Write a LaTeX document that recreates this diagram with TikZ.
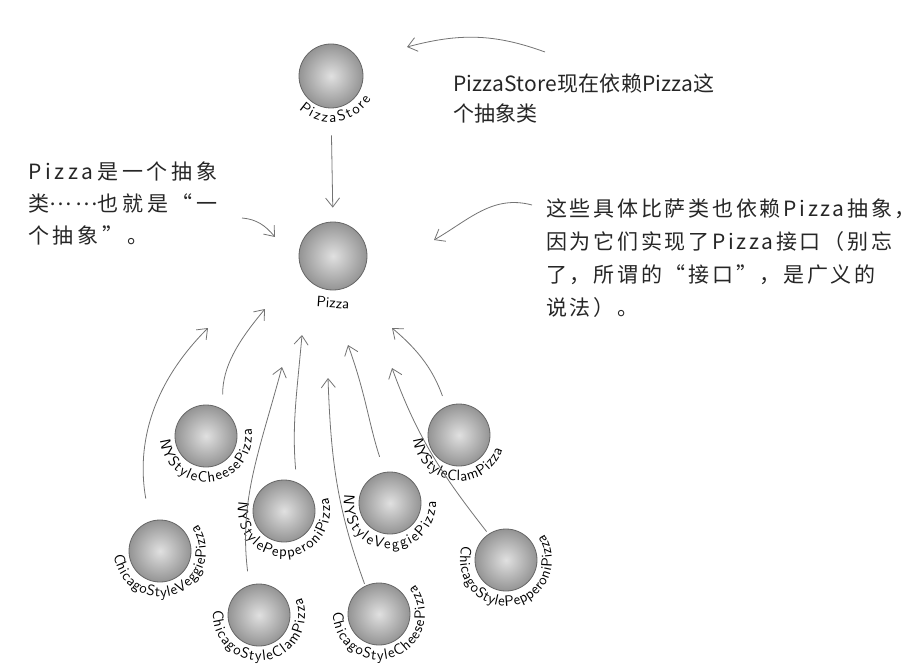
\documentclass[tikz,border=0pt]{standalone}
\usepackage{fontspec}
\newfontfamily\cjk{Noto Sans CJK SC}
\usetikzlibrary{arrows.meta,decorations.text}
\newcommand{\ballname}[4]{%
  \path[decorate,decoration={text along path,
      text={|\sffamily\fontsize{15}{15}\selectfont|#4},text align={fit to path}}]
    ([shift={(#2:46pt)}]#1.center) arc[start angle=#2,end angle=#3,radius=46pt];}

\begin{document}
\begin{tikzpicture}[x=1pt,y=1pt]
  \tikzset{
    ball/.style={circle,inner sep=0pt,minimum size=62pt,draw=black!60,line width=0.8pt,
      inner color=black!12,outer color=black!42},
    note/.style={anchor=north west,inner sep=0pt,align=left,text=black!85},
    arr/.style={draw=black!55,line width=0.8pt,-{Straight Barb[length=9pt,width=14pt]}},
  }
  \useasboundingbox (0,0) rectangle (923,-671);
  \node[ball,minimum size=64pt] (store) at (331,-76) {};
  \node[ball,minimum size=68pt] (pizza) at (333,-256) {};
  \node[ball] (nycheese)    at (206,-436) {};
  \node[ball] (nypepperoni) at (284,-511) {};
  \node[ball] (nyveggie)    at (390,-503) {};
  \node[ball] (nyclam)      at (459,-435) {};
  \node[ball] (chveggie)    at (160,-551) {};
  \node[ball] (chclam)      at (259,-615) {};
  \node[ball] (chcheese)    at (379,-614) {};
  \node[ball] (chpepperoni) at (506,-560) {};
  \node[font=\sffamily\fontsize{15}{15}\selectfont,rotate=-4] (pizzaname) at (333,-303) {Pizza};
  \ballname{store}{226}{330}{PizzaStore}
  \ballname{nycheese}{185}{369}{NYStyleCheesePizza}
  \ballname{nypepperoni}{168}{377}{NYStylePepperoniPizza}
  \ballname{nyveggie}{170}{362}{NYStyleVeggiePizza}
  \ballname{nyclam}{186}{341}{NYStyleClamPizza}
  \ballname{chveggie}{185}{395}{ChicagoStyleVeggiePizza}
  \ballname{chclam}{174}{382}{ChicagoStyleClamPizza}
  \ballname{chcheese}{178}{399}{ChicagoStyleCheesePizza}
  \ballname{chpepperoni}{162}{394}{ChicagoStylePepperoniPizza}

  \node[note,font=\cjk\fontsize{21}{30}\selectfont\addfontfeature{LetterSpace=1}]
    (storenote) at (453,-74) {PizzaStore现在依赖Pizza这\\个抽象类};
  \node[note,font=\cjk\fontsize{21}{32}\selectfont\addfontfeature{LetterSpace=18}]
    (abstractnote) at (28,-162) {Pizza是一个抽象\\类\raisebox{6pt}{……}也就是“一\\个抽象”。};
  \node[note,font=\cjk\fontsize{21}{33}\selectfont\addfontfeature{LetterSpace=13}]
    (concretenote) at (546,-199)
    {这些具体比萨类也依赖Pizza抽象，\\因为它们实现了Pizza接口（别忘\\了，所谓的“接口”，是广义的\\说法）。};

  \coordinate (storetail) at (545,-52);
  \coordinate (storehead) at (407,-47);
  \coordinate (abstracttail) at (242,-218);
  \coordinate (abstracthead) at (275,-237);
  \coordinate (concretetail) at (532,-205);
  \coordinate (concretehead) at (434,-240);
  \coordinate (chveggietip) at (208,-328);
  \coordinate (nycheesetip) at (265,-309);
  \coordinate (chclamtip) at (282,-367);
  \coordinate (nypepperonitip) at (302,-335);
  \coordinate (chcheesetip) at (328,-378);
  \coordinate (nyveggietip) at (348,-345);
  \coordinate (chpepperonitip) at (392,-368);
  \coordinate (nyclamtip) at (392,-328);

  \draw[arr] (storetail) to[out=160,in=15] (storehead);
  \draw[arr] (abstracttail) to[out=-5,in=130] (abstracthead);
  \draw[arr] (concretetail) to[out=165,in=30] (concretehead);
  \draw[arr,shorten <=27pt,shorten >=14pt] (store.south) -- (pizza.north);
  \draw[arr,shorten <=23pt] (chveggie.109) to[out=100,in=225] (chveggietip);
  \draw[arr,shorten <=15pt] (nycheese.58) to[out=90,in=230] (nycheesetip);
  \draw[arr,shorten <=14pt] (chclam.108) to[out=97,in=255] (chclamtip);
  \draw[arr,shorten <=13pt] (nypepperoni.66) to[out=95,in=265] (nypepperonitip);
  \draw[arr,shorten <=2pt] (chcheese.116) to[out=110,in=272] (chcheesetip);
  \draw[arr,shorten <=16pt] (nyveggie.100) to[out=108,in=290] (nyveggietip);
  \draw[arr,shorten <=3pt] (chpepperoni.124) to[out=128,in=290] (chpepperonitip);
  \draw[arr,shorten <=11pt] (nyclam.114) to[out=110,in=320] (nyclamtip);
\end{tikzpicture}
\end{document}
